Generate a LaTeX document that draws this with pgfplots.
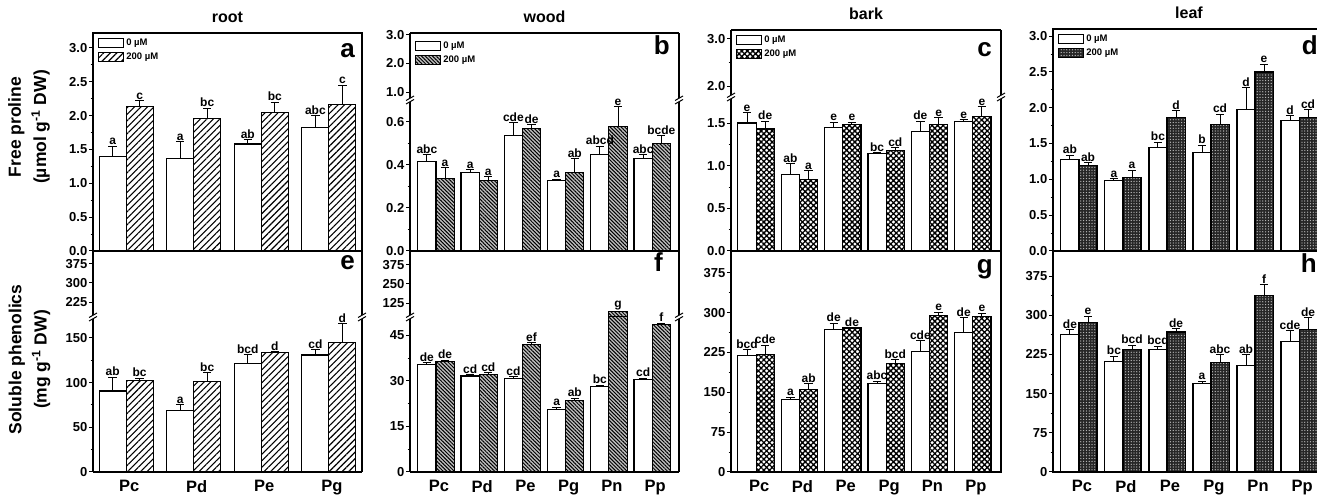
\documentclass[border=0pt]{standalone}
\usepackage{fontspec}
\setmainfont{Liberation Sans}
\usepackage{pgfplots}
\usepackage{pgfplotstable}
\pgfplotsset{compat=1.18}
\usetikzlibrary{patterns.meta}

\newcommand\fs[1]{\bfseries\fontsize{#1}{#1}\selectfont}

\pgfplotsset{
  panel/.style={
    scale only axis, anchor=south west, ybar, enlargelimits=false,
    axis line style={-, line width=1.2pt},
    tick align=outside, ytick pos=left, xtick=\empty,
    major tick length=4pt, minor tick length=2.5pt,
    tick style={black, line width=1pt},
    minor y tick num=1,
    tick label style={font=\fs{13}},
    /pgf/number format/assume math mode=true,
    yticklabel style={inner sep=1.5pt},
    title style={at={(0.5,1)}, anchor=base, yshift=4.5pt, font=\fs{16}},
    legend style={at={(0,1)}, anchor=north west, xshift=5pt, yshift=-4pt,
      draw=none, fill=none, font=\fs{9.5}, row sep=1.5pt, inner sep=0pt},
    legend cell align=left,
  },
  lower/.style={axis x line*=bottom, axis y line*=box},
  upper/.style={axis x line*=top, axis y line*=box},
  dec/.style={yticklabel style={/pgf/number format/.cd, fixed, fixed zerofill, precision=1}},
  bx/.style={xtick={0,...,#1}, xtick style={draw=none},
    xticklabel style={font=\fs{16.5}, yshift=-1pt, xshift=3pt}},
  sq/.style={legend image code/.code={\draw[##1] (0pt,-4.5pt) rectangle (25pt,4.5pt);}},
  wb/.style={draw=black, line width=1.1pt, fill=white},
  pa/.style={wb, postaction={pattern={Lines[angle=45,distance=4.6pt,line width=1.1pt]}}},
  pb/.style={draw=black, line width=1.1pt, fill=gray!50,
    postaction={pattern={Lines[angle=-45,distance=2.6pt,line width=1pt]}}},
  pc/.style={wb, postaction={pattern={Hatch[angle=45,distance=3.9pt,line width=1.3pt]}}},
  pd/.style={draw=black, line width=1.1pt, fill=black!85,
    postaction={pattern={Dots[distance=2.8pt,radius=0.65pt]}, pattern color=gray!45}},
  eb/.style={error bars/y dir=plus, error bars/y explicit,
    error bars/error bar style={line width=1pt, black},
    error bars/error mark options={rotate=90, mark size=4.2pt, line width=1pt, black}},
  lab/.style={forget plot, draw=none, fill=none, nodes near coords,
    point meta=explicit symbolic,
    every node near coord/.append style={font=\fs{12}, text=black, inner sep=1pt}},
}

% one pair of bars per category: table, pattern style, half bar width
\newcommand\pair[3]{%
  \addplot[forget plot, wb, eb, bar shift=-#3] table[x=x, y=w, y error expr=\thisrow{wt}-\thisrow{w}] {#1};
  \addplot[forget plot, #2, eb, bar shift=#3] table[x=x, y=p, y error expr=\thisrow{pt}-\thisrow{p}] {#1};
  \addplot[lab, bar shift=-#3] table[x=x, y=wt, meta=wl] {#1};
  \addplot[lab, bar shift=#3] table[x=x, y=pt, meta=pl] {#1};
}
\newcommand\legpair[1]{%
  \addlegendimage{wb,sq}\addlegendentry{0 µM}
  \addlegendimage{#1,sq}\addlegendentry{200 µM}
}
\newcommand\brk[2]{\begin{scope}[shift={(#1pt,#2pt)}]
  \fill[white] (-4pt,-4pt) -- (4pt,0.5pt) -- (4pt,4pt) -- (-4pt,-0.5pt) -- cycle;
  \draw[line width=1pt] (-4pt,-4pt) -- (4pt,0.5pt) (-4pt,-0.5pt) -- (4pt,4pt);
\end{scope}}

% free proline
\pgfplotstableread{
x w wt wl p pt pl
0 1.40 1.55 a 2.14 2.22 c
1 1.37 1.61 a 1.96 2.11 bc
2 1.58 1.64 ab 2.05 2.20 bc
3 1.82 2.00 abc 2.17 2.45 c
}\ta
\pgfplotstableread{
x w wt wl p pt pl
0 0.414 0.447 abc 0.335 0.386 a
1 0.367 0.377 a 0.326 0.345 a
2 0.535 0.596 cde 0.568 0.586 de
3 0.326 0.334 a 0.367 0.428 ab
4 0.447 0.488 abcd 0.577 0.670 e
5 0.428 0.447 abc 0.498 0.535 bcde
}\tb
\pgfplotstableread{
x w wt wl p pt pl
0 1.50 1.62 e 1.43 1.52 de
1 0.90 1.02 ab 0.84 0.94 a
2 1.45 1.51 e 1.48 1.51 e
3 1.14 1.15 bc 1.18 1.21 cd
4 1.40 1.52 de 1.48 1.56 e
5 1.52 1.54 e 1.58 1.69 e
}\tc
\pgfplotstableread{
x w wt wl p pt pl
0 1.28 1.34 ab 1.19 1.23 ab
1 0.98 1.01 a 1.03 1.13 a
2 1.45 1.52 bc 1.87 1.96 d
3 1.38 1.48 b 1.77 1.91 cd
4 1.98 2.28 d 2.50 2.61 e
5 1.82 1.89 d 1.87 1.97 cd
}\td
% soluble phenolics
\pgfplotstableread{
x w wt wl p pt pl
0 90.7 106 ab 102 105 bc
1 69 75 a 101 111 bc
2 121 131 bcd 134 134.5 d
3 131 137 cd 145 166 d
}\te
\pgfplotstableread{
x w wt wl p pt pl
0 35.5 35.9 de 36.5 36.8 de
1 31.6 32.1 cd 32.1 32.6 cd
2 30.9 31.3 cd 42.1 42.5 ef
3 20.7 21.3 a 23.4 24.3 ab
4 28.0 28.6 bc 70 70 {}
5 30.3 30.9 cd 48.4 49.0 f
}\tf
\pgfplotstableread{
x p pt pl
4 70 70 g
}\tfu
\pgfplotstableread{
x w wt wl p pt pl
0 220 230 bcd 222 239 cde
1 136 141 a 156 166 ab
2 269 280 de 271 271.5 de
3 167 171 abc 205 211 bcd
4 226 247 cde 294 301 e
5 262 290 de 292 299 e
}\tg
\pgfplotstableread{
x w wt wl p pt pl
0 264 272 de 287 298 e
1 211 222 bc 235 243 bcd
2 235 241 bcd 268 275 de
3 170 174 a 210 224 abc
4 203 224 ab 338 359 f
5 249 270 cde 272 296 de
}\th

\begin{document}
\begin{tikzpicture}[x=1pt,y=1pt]
\useasboundingbox (0,0) rectangle (1317,495);

% ---- top row: free proline
\begin{axis}[panel, dec, at={(93pt,244pt)}, width=269pt, height=218pt,
  xmin=-0.49, xmax=3.49, bar width=0.40, ymin=0, ymax=3.22,
  ytick={0,0.5,...,3.0}, title={root}]
\legpair{pa}
\pair{\ta}{pa}{0.2}
\end{axis}

\begin{axis}[panel, lower, dec, at={(410pt,244pt)}, width=269pt, height=151pt,
  xmin=-0.6, xmax=5.62, bar width=0.42, ymin=0, ymax=0.702,
  ytick={0,0.2,0.4,0.6}]
\pair{\tb}{pb}{0.21}
\end{axis}
\begin{axis}[panel, upper, dec, at={(410pt,395pt)}, width=269pt, height=67pt,
  xmin=-0.6, xmax=5.62, ymin=0.72, ymax=3.07,
  ytick={1,2,3}, minor y tick num=0, title={wood}, legend style={yshift=-3pt}]
\legpair{pb}
\end{axis}

\begin{axis}[panel, lower, dec, at={(731pt,244pt)}, width=270pt, height=154pt,
  xmin=-0.58, xmax=5.65, bar width=0.42, ymin=0, ymax=1.805,
  ytick={0,0.5,1.0,1.5}]
\pair{\tc}{pc}{0.21}
\end{axis}
\begin{axis}[panel, upper, dec, at={(731pt,398pt)}, width=270pt, height=67pt,
  xmin=-0.58, xmax=5.65, ymin=1.77, ymax=3.19,
  ytick={2,3}, title={bark}, legend style={yshift=0pt}]
\legpair{pc}
\end{axis}

\begin{axis}[panel, dec, at={(1053pt,244pt)}, width=272pt, height=222pt,
  xmin=-0.59, xmax=5.59, bar width=0.41, ymin=0, ymax=3.1,
  ytick={0,0.5,...,3.0}, title={leaf}]
\legpair{pd}
\pair{\td}{pd}{0.205}
\end{axis}

% ---- bottom row: soluble phenolics
\begin{axis}[panel, lower, bx=3, at={(93pt,23pt)}, width=269pt, height=155pt,
  xmin=-0.49, xmax=3.49, bar width=0.40, ymin=0, ymax=173.5,
  ytick={0,50,100,150}, xticklabels={Pc,Pd,Pe,Pg}]
\pair{\te}{pa}{0.2}
\end{axis}
\begin{axis}[panel, upper, at={(93pt,178pt)}, width=269pt, height=66pt,
  xmin=-0.49, xmax=3.49, ymin=166, ymax=426, ytick={225,300,375}, minor y tick num=0]
\end{axis}

\begin{axis}[panel, lower, bx=5, at={(410pt,23pt)}, width=269pt, height=155pt,
  xmin=-0.6, xmax=5.62, bar width=0.42, ymin=0, ymax=51,
  ytick={0,15,30,45}, xticklabels={Pc,Pd,Pe,Pg,Pn,Pp}]
\pair{\tf}{pb}{0.21}
\end{axis}
\begin{axis}[panel, upper, at={(410pt,178pt)}, width=269pt, height=66pt,
  xmin=-0.6, xmax=5.62, bar width=0.42, ymin=33, ymax=467, ytick={125,250,375}, minor y tick num=0]
\addplot[forget plot, pb, bar shift=0.21] table[x=x, y=p] {\tfu};
\addplot[lab, bar shift=0.21] table[x=x, y=pt, meta=pl] {\tfu};
\end{axis}

\begin{axis}[panel, bx=5, at={(731pt,23pt)}, width=270pt, height=221pt,
  xmin=-0.58, xmax=5.65, bar width=0.42, ymin=0, ymax=416,
  ytick={0,75,...,375}, xticklabels={Pc,Pd,Pe,Pg,Pn,Pp}]
\pair{\tg}{pc}{0.21}
\end{axis}

\begin{axis}[panel, bx=5, at={(1053pt,23pt)}, width=272pt, height=221pt,
  xmin=-0.59, xmax=5.59, bar width=0.41, ymin=0, ymax=423,
  ytick={0,75,...,375}, xticklabels={Pc,Pd,Pe,Pg,Pn,Pp}]
\pair{\th}{pd}{0.205}
\end{axis}

% axis breaks
\brk{410}{395}\brk{679}{395}
\brk{731}{398}\brk{1001}{398}
\brk{93}{178}\brk{362}{178}
\brk{410}{178}\brk{679}{178}

% panel letters
\begin{scope}[every node/.style={font=\fs{26}, anchor=base east, inner sep=0pt}]
\node at (355pt,437pt) {a};
\node at (670pt,440pt) {b};
\node at (992pt,438pt) {c};
\node at (1318pt,440pt) {d};
\node at (355pt,225pt) {e};
\node at (663pt,223pt) {f};
\node at (993pt,221pt) {g};
\node at (1317pt,222pt) {h};
\end{scope}

% y labels
\node[rotate=90, align=center, font=\fs{17.5}, inner sep=0pt] at (29pt,368pt)
  {Free proline\\[6pt](µmol g\textsuperscript{-1} DW)};
\node[rotate=90, align=center, font=\fs{17.5}, inner sep=0pt] at (29.5pt,135.5pt)
  {Soluble phenolics\\[6pt](mg g\textsuperscript{-1} DW)};
\end{tikzpicture}
\end{document}
